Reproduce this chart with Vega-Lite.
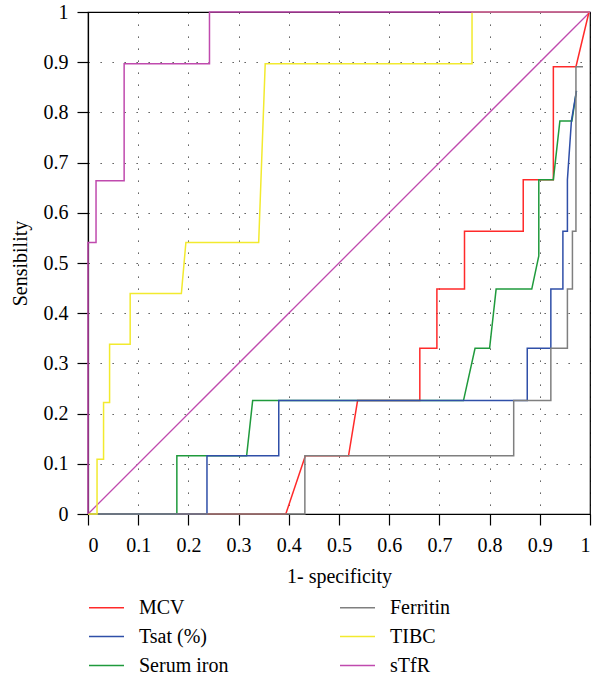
{
  "$schema": "https://vega.github.io/schema/vega-lite/v6.json",
  "description": "ROC curves of iron-status markers: sensibility against 1 - specificity.",
  "autosize": {"type": "none"},
  "padding": {"left": 88, "top": 12, "right": 2, "bottom": 160},
  "width": 502,
  "height": 502,
  "background": "white",
  "config": {
    "view": {"stroke": "black", "strokeWidth": 1.2},
    "font": "Liberation Serif",
    "axis": {
      "domainColor": "black",
      "domainWidth": 1.2,
      "tickColor": "black",
      "tickWidth": 1.2,
      "tickSize": 11,
      "labelFont": "Liberation Serif",
      "labelFontSize": 20,
      "labelColor": "black",
      "titleFont": "Liberation Serif",
      "titleFontSize": 20,
      "titleFontWeight": "normal",
      "titleColor": "black",
      "grid": true,
      "gridColor": "black",
      "gridOpacity": 0.75,
      "gridWidth": 1,
      "gridDash": [1.3, 10.7]
    },
    "legend": {
      "labelFont": "Liberation Serif",
      "labelFontSize": 20,
      "labelColor": "black"
    }
  },
  "datasets": {
    "roc": [
      {"series": "MCV", "step": 1, "x": 0, "y": 0},
      {"series": "MCV", "step": 2, "x": 0.394, "y": 0},
      {"series": "MCV", "step": 3, "x": 0.433, "y": 0.116},
      {"series": "MCV", "step": 4, "x": 0.519, "y": 0.116},
      {"series": "MCV", "step": 5, "x": 0.537, "y": 0.226},
      {"series": "MCV", "step": 6, "x": 0.661, "y": 0.226},
      {"series": "MCV", "step": 7, "x": 0.661, "y": 0.33},
      {"series": "MCV", "step": 8, "x": 0.695, "y": 0.33},
      {"series": "MCV", "step": 9, "x": 0.695, "y": 0.448},
      {"series": "MCV", "step": 10, "x": 0.75, "y": 0.448},
      {"series": "MCV", "step": 11, "x": 0.75, "y": 0.563},
      {"series": "MCV", "step": 12, "x": 0.867, "y": 0.563},
      {"series": "MCV", "step": 13, "x": 0.867, "y": 0.666},
      {"series": "MCV", "step": 14, "x": 0.927, "y": 0.666},
      {"series": "MCV", "step": 15, "x": 0.927, "y": 0.891},
      {"series": "MCV", "step": 16, "x": 0.972, "y": 0.891},
      {"series": "MCV", "step": 17, "x": 0.998, "y": 1},
      {"series": "Serum iron", "step": 1, "x": 0, "y": 0},
      {"series": "Serum iron", "step": 2, "x": 0.177, "y": 0},
      {"series": "Serum iron", "step": 3, "x": 0.177, "y": 0.116},
      {"series": "Serum iron", "step": 4, "x": 0.316, "y": 0.116},
      {"series": "Serum iron", "step": 5, "x": 0.328, "y": 0.226},
      {"series": "Serum iron", "step": 6, "x": 0.748, "y": 0.226},
      {"series": "Serum iron", "step": 7, "x": 0.771, "y": 0.33},
      {"series": "Serum iron", "step": 8, "x": 0.8, "y": 0.33},
      {"series": "Serum iron", "step": 9, "x": 0.813, "y": 0.448},
      {"series": "Serum iron", "step": 10, "x": 0.884, "y": 0.448},
      {"series": "Serum iron", "step": 11, "x": 0.898, "y": 0.514},
      {"series": "Serum iron", "step": 12, "x": 0.898, "y": 0.666},
      {"series": "Serum iron", "step": 13, "x": 0.927, "y": 0.666},
      {"series": "Serum iron", "step": 14, "x": 0.94, "y": 0.783},
      {"series": "Serum iron", "step": 15, "x": 0.964, "y": 0.783},
      {"series": "Serum iron", "step": 16, "x": 0.973, "y": 0.843},
      {"series": "Tsat (%)", "step": 1, "x": 0, "y": 0},
      {"series": "Tsat (%)", "step": 2, "x": 0.237, "y": 0},
      {"series": "Tsat (%)", "step": 3, "x": 0.237, "y": 0.116},
      {"series": "Tsat (%)", "step": 4, "x": 0.38, "y": 0.116},
      {"series": "Tsat (%)", "step": 5, "x": 0.38, "y": 0.226},
      {"series": "Tsat (%)", "step": 6, "x": 0.875, "y": 0.226},
      {"series": "Tsat (%)", "step": 7, "x": 0.875, "y": 0.33},
      {"series": "Tsat (%)", "step": 8, "x": 0.922, "y": 0.33},
      {"series": "Tsat (%)", "step": 9, "x": 0.922, "y": 0.448},
      {"series": "Tsat (%)", "step": 10, "x": 0.946, "y": 0.448},
      {"series": "Tsat (%)", "step": 11, "x": 0.946, "y": 0.563},
      {"series": "Tsat (%)", "step": 12, "x": 0.955, "y": 0.563},
      {"series": "Tsat (%)", "step": 13, "x": 0.955, "y": 0.666},
      {"series": "Tsat (%)", "step": 14, "x": 0.963, "y": 0.783},
      {"series": "Tsat (%)", "step": 15, "x": 0.973, "y": 0.843},
      {"series": "Ferritin", "step": 1, "x": 0, "y": 0},
      {"series": "Ferritin", "step": 2, "x": 0.432, "y": 0},
      {"series": "Ferritin", "step": 3, "x": 0.432, "y": 0.116},
      {"series": "Ferritin", "step": 4, "x": 0.848, "y": 0.116},
      {"series": "Ferritin", "step": 5, "x": 0.848, "y": 0.226},
      {"series": "Ferritin", "step": 6, "x": 0.922, "y": 0.226},
      {"series": "Ferritin", "step": 7, "x": 0.922, "y": 0.33},
      {"series": "Ferritin", "step": 8, "x": 0.955, "y": 0.33},
      {"series": "Ferritin", "step": 9, "x": 0.955, "y": 0.448},
      {"series": "Ferritin", "step": 10, "x": 0.965, "y": 0.448},
      {"series": "Ferritin", "step": 11, "x": 0.965, "y": 0.563},
      {"series": "Ferritin", "step": 12, "x": 0.972, "y": 0.563},
      {"series": "Ferritin", "step": 13, "x": 0.972, "y": 0.891},
      {"series": "Ferritin", "step": 14, "x": 0.986, "y": 0.891},
      {"series": "TIBC", "step": 1, "x": 0, "y": 0},
      {"series": "TIBC", "step": 2, "x": 0.018, "y": 0},
      {"series": "TIBC", "step": 3, "x": 0.018, "y": 0.109},
      {"series": "TIBC", "step": 4, "x": 0.031, "y": 0.109},
      {"series": "TIBC", "step": 5, "x": 0.031, "y": 0.222},
      {"series": "TIBC", "step": 6, "x": 0.043, "y": 0.222},
      {"series": "TIBC", "step": 7, "x": 0.043, "y": 0.338},
      {"series": "TIBC", "step": 8, "x": 0.084, "y": 0.338},
      {"series": "TIBC", "step": 9, "x": 0.084, "y": 0.439},
      {"series": "TIBC", "step": 10, "x": 0.186, "y": 0.439},
      {"series": "TIBC", "step": 11, "x": 0.195, "y": 0.541},
      {"series": "TIBC", "step": 12, "x": 0.34, "y": 0.541},
      {"series": "TIBC", "step": 13, "x": 0.353, "y": 0.897},
      {"series": "TIBC", "step": 14, "x": 0.765, "y": 0.897},
      {"series": "TIBC", "step": 15, "x": 0.765, "y": 1},
      {"series": "TIBC", "step": 16, "x": 1, "y": 1},
      {"series": "sTfR", "step": 1, "x": 0, "y": 0},
      {"series": "sTfR", "step": 2, "x": 0, "y": 0.541},
      {"series": "sTfR", "step": 3, "x": 0.016, "y": 0.541},
      {"series": "sTfR", "step": 4, "x": 0.016, "y": 0.664},
      {"series": "sTfR", "step": 5, "x": 0.072, "y": 0.664},
      {"series": "sTfR", "step": 6, "x": 0.072, "y": 0.897},
      {"series": "sTfR", "step": 7, "x": 0.242, "y": 0.897},
      {"series": "sTfR", "step": 8, "x": 0.242, "y": 1},
      {"series": "sTfR", "step": 9, "x": 1, "y": 1}
    ],
    "chance": [
      {"x": 0, "y": 0},
      {"x": 1, "y": 1}
    ]
  },
  "layer": [
    {
      "data": {"name": "chance"},
      "mark": {"type": "line", "color": "#c04aae", "strokeWidth": 1.3},
      "encoding": {
        "x": {"field": "x", "type": "quantitative"},
        "y": {"field": "y", "type": "quantitative"}
      }
    },
    {
      "data": {"name": "roc"},
      "mark": {"type": "line", "strokeWidth": 1.5},
      "encoding": {
        "x": {
          "field": "x",
          "type": "quantitative",
          "scale": {"domain": [0, 1], "nice": false, "zero": false},
          "axis": {
            "title": "1- specificity",
            "values": [0, 0.1, 0.2, 0.3, 0.4, 0.5, 0.6, 0.7, 0.8, 0.9, 1],
            "format": "~g",
            "labelPadding": 10,
            "titlePadding": 11
          }
        },
        "y": {
          "field": "y",
          "type": "quantitative",
          "scale": {"domain": [0, 1], "nice": false, "zero": false},
          "axis": {
            "title": "Sensibility",
            "values": [0, 0.1, 0.2, 0.3, 0.4, 0.5, 0.6, 0.7, 0.8, 0.9, 1],
            "format": "~g",
            "labelPadding": 9,
            "titlePadding": 13
          }
        },
        "order": {"field": "step", "type": "quantitative"},
        "color": {
          "field": "series",
          "type": "nominal",
          "scale": {
            "domain": ["MCV", "Tsat (%)", "Serum iron", "Ferritin", "TIBC", "sTfR"],
            "range": ["#ff2a2a", "#2f4fa8", "#1f9a3c", "#7f7f7f", "#f2ea2e", "#c04aae"]
          },
          "legend": {
            "title": null,
            "orient": "none",
            "legendX": 0,
            "legendY": 577,
            "columns": 2,
            "columnPadding": 108,
            "rowPadding": 0,
            "symbolType": "stroke",
            "symbolSize": 1225,
            "symbolStrokeWidth": 1.5,
            "labelOffset": 14
          }
        }
      }
    }
  ]
}
